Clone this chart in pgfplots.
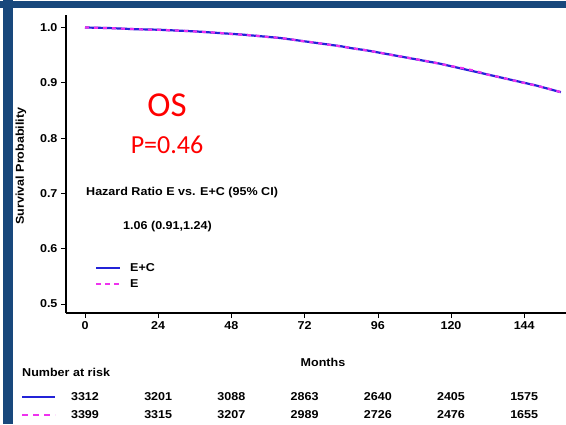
\documentclass[border=0pt]{standalone}
\usepackage{pgfplots}
\pgfplotsset{compat=1.18}
\usepackage{fontspec}
\setmainfont{Liberation Sans}[FakeStretch=1.1]
\newfontfamily\calib{Carlito}
\definecolor{frameblue}{RGB}{24,72,124}
\definecolor{kmblue}{RGB}{35,35,215}
\definecolor{kmmag}{RGB}{238,50,238}
\definecolor{osred}{RGB}{255,0,0}
\newcommand{\fs}{\bfseries\fontsize{11.4}{12}\selectfont}
\begin{document}
\begin{tikzpicture}[x=1pt,y=1pt]
\useasboundingbox (0,0) rectangle (566,424);
\fill[white] (0,0) rectangle (566,424);
\fill[frameblue] (0,416) rectangle (566,422.5);
\fill[frameblue] (3,0) rectangle (13,424);
\begin{axis}[
  at={(66pt,111pt)}, anchor=south west,
  scale only axis, width=500pt, height=298pt,
  xmin=-6.23, xmax=157.7, ymin=0.4837, ymax=1.0226,
  axis lines*=left,
  axis line style={line width=1.6pt, black},
  tick align=outside, major tick length=5pt,
  tick style={line width=0.6pt, black},
  xtick={0,24,48,72,96,120,144},
  ytick={0.5,0.6,0.7,0.8,0.9,1.0},
  yticklabel style={/pgf/number format/.cd, fixed, fixed zerofill, precision=1},
  ticklabel style={font=\fs},
  /pgf/number format/assume math mode=true,
  clip=false,
]
\addplot[kmblue, line width=2.2pt] coordinates {
(0,1.000) (4,0.9995) (8,0.999) (12,0.998) (16,0.997) (20,0.9965) (24,0.996)
(28,0.995) (32,0.994) (36,0.993) (40,0.9915) (44,0.990) (48,0.9885) (52,0.987)
(56,0.985) (60,0.983) (64,0.981) (68,0.978) (72,0.975) (76,0.972) (80,0.969)
(84,0.966) (88,0.962) (92,0.959) (96,0.955) (100,0.951) (104,0.947) (108,0.943)
(112,0.939) (116,0.935) (120,0.930) (124,0.925) (128,0.920) (132,0.915)
(136,0.910) (140,0.905) (144,0.900) (148,0.895) (152,0.889) (156,0.883)
};
\addplot[kmmag, line width=2.2pt, dash pattern=on 4pt off 5pt] coordinates {
(0,1.000) (4,0.9995) (8,0.9988) (12,0.998) (16,0.9972) (20,0.9962) (24,0.9958)
(28,0.9948) (32,0.9942) (36,0.9928) (40,0.9918) (44,0.9902) (48,0.9882) (52,0.9868)
(56,0.9852) (60,0.9828) (64,0.9812) (68,0.9782) (72,0.9748) (76,0.9722) (80,0.9688)
(84,0.9658) (88,0.9622) (92,0.9588) (96,0.9552) (100,0.9508) (104,0.9472) (108,0.9432)
(112,0.9392) (116,0.9348) (120,0.9302) (124,0.9262) (128,0.9215) (132,0.9148)
(136,0.9102) (140,0.9048) (144,0.8998) (148,0.8948) (152,0.8892) (156,0.8832)
};
\end{axis}
% y label
\node[rotate=90, font=\fs] at (21,258) {Survival Probability};
% red annotation
\node[text=osred, font=\calib\fontsize{35}{40}\selectfont] at (167,319) {OS};
\node[text=osred, font=\calib\fontsize{26}{28}\selectfont] at (167,279) {P=0.46};
% HR text
\node[anchor=west, font=\fs, inner sep=0pt] at (86,231) {Hazard Ratio E vs. E+C (95\% CI)};
\node[anchor=west, font=\fs, inner sep=0pt] at (123,197) {1.06 (0.91,1.24)};
% legend
\draw[kmblue, line width=2pt] (96,156) -- (120,156);
\draw[kmmag, line width=2pt, dash pattern=on 5pt off 4pt] (96,140) -- (120,140);
\node[anchor=west, font=\fs, inner sep=0pt] at (130,156) {E+C};
\node[anchor=west, font=\fs, inner sep=0pt] at (130,140) {E};
% x label
\node[font=\fs] at (323,62) {Months};
% risk table
\node[anchor=west, font=\fs, inner sep=0pt] at (22,52) {Number at risk};
\draw[kmblue, line width=1.6pt] (22,27) -- (55,27);
\draw[kmmag, line width=1.6pt, dash pattern=on 6pt off 5pt] (22,9) -- (55,9);
\foreach \xx/\a/\b in {85/3312/3399, 158.2/3201/3315, 231.4/3088/3207, 304.6/2863/2989, 377.8/2640/2726, 451/2405/2476, 524.2/1575/1655} {
  \node[font=\fs] at (\xx,27) {\a};
  \node[font=\fs] at (\xx,9) {\b};
}
\end{tikzpicture}
\end{document}
